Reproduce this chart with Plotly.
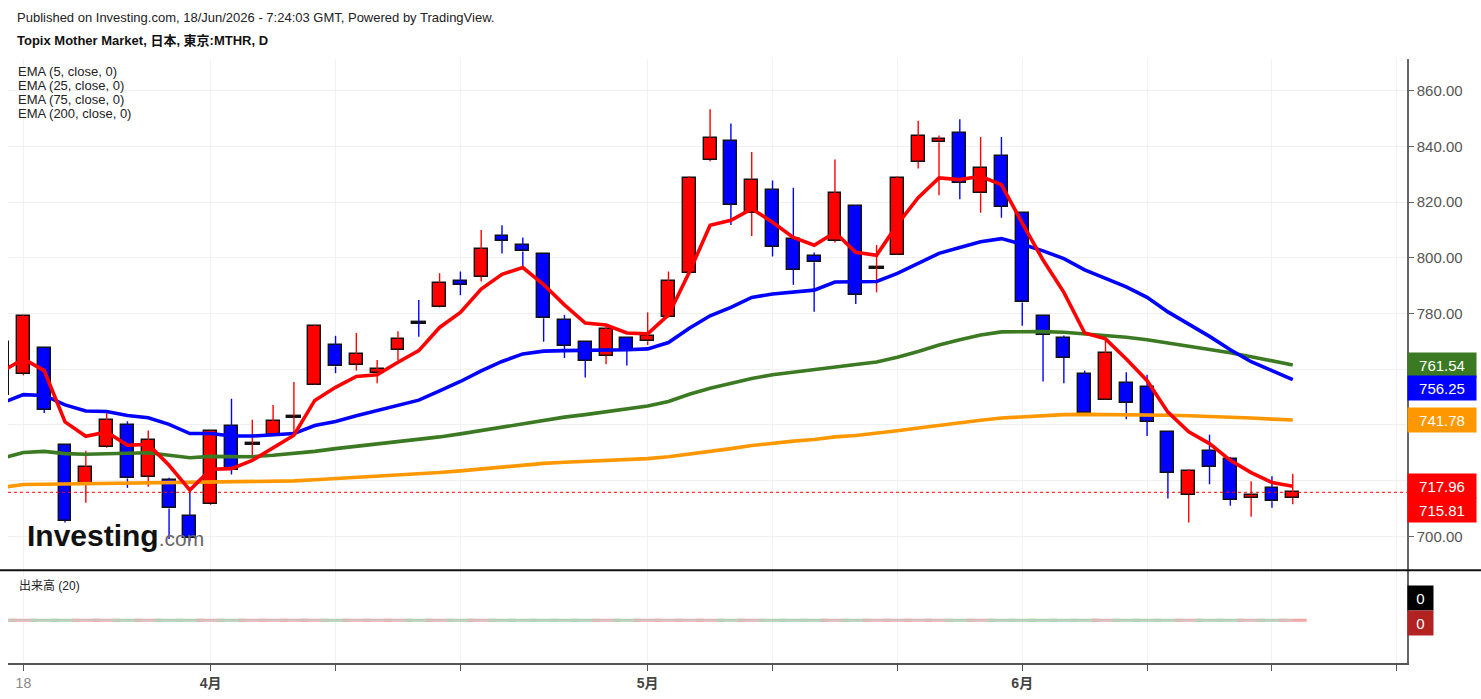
import plotly.graph_objects as go

# ---------------- data ----------------
dates = ["2026-03-17",
         "2026-03-18", "2026-03-19", "2026-03-23", "2026-03-24", "2026-03-25", "2026-03-26", "2026-03-27",
         "2026-03-30", "2026-03-31", "2026-04-01", "2026-04-02", "2026-04-03", "2026-04-06", "2026-04-07",
         "2026-04-08", "2026-04-09", "2026-04-10", "2026-04-13", "2026-04-14", "2026-04-15", "2026-04-16",
         "2026-04-17", "2026-04-20", "2026-04-21", "2026-04-22", "2026-04-23", "2026-04-24", "2026-04-27",
         "2026-04-28", "2026-04-30", "2026-05-01", "2026-05-07", "2026-05-08", "2026-05-11", "2026-05-12",
         "2026-05-13", "2026-05-14", "2026-05-15", "2026-05-18", "2026-05-19", "2026-05-20", "2026-05-21",
         "2026-05-22", "2026-05-25", "2026-05-26", "2026-05-27", "2026-05-28", "2026-05-29", "2026-06-01",
         "2026-06-02", "2026-06-03", "2026-06-04", "2026-06-05", "2026-06-08", "2026-06-09", "2026-06-10",
         "2026-06-11", "2026-06-12", "2026-06-15", "2026-06-16", "2026-06-17", "2026-06-18"]
slot = list(range(-1, len(dates) - 1))  # trading-day slot (-1 = partially hidden first bar)

opens = [769.7,
         758.3, 767.5, 732.7, 718.6, 732.1, 740.1, 721.4, 720.3, 707.4, 711.6,
         739.6, 733.2, 736.3, 742.9, 754.5, 768.7, 761.6, 758.7, 766.9, 777.0,
         782.4, 791.7, 793.2, 807.8, 804.6, 801.3, 777.8, 769.7, 764.8, 771.2,
         770.1, 778.6, 794.4, 835.1, 842.1, 816.2, 824.4, 806.7, 800.8, 806.1,
         818.5, 796.5, 801.2, 834.5, 841.5, 844.8, 823.2, 836.7, 816.2, 779.2,
         771.2, 758.3, 749.1, 755.1, 753.6, 737.5, 714.8, 730.5, 727.9, 713.8,
         717.2, 713.8]
highs = [772.0,
         779.5, 767.8, 733.0, 730.7, 744.6, 741.3, 738.0, 721.0, 716.6, 738.0,
         749.4, 741.9, 747.2, 755.4, 776.0, 772.0, 773.0, 763.3, 773.6, 784.9,
         794.5, 795.1, 810.0, 811.7, 807.3, 801.5, 779.5, 770.0, 775.4, 771.5,
         780.4, 795.1, 829.3, 853.4, 848.2, 838.0, 827.8, 825.2, 801.9, 835.3,
         819.0, 804.6, 829.3, 849.2, 843.9, 849.8, 843.4, 843.4, 816.5, 779.5,
         772.1, 759.5, 772.1, 758.9, 758.0, 737.8, 724.1, 736.5, 728.5, 719.8,
         721.6, 722.5]
lows = [748.0,
        757.8, 744.3, 705.0, 712.1, 731.8, 717.4, 717.8, 699.0, 698.2, 711.3,
        722.2, 729.1, 736.0, 736.3, 754.3, 758.6, 759.5, 755.0, 763.1, 771.7,
        782.2, 786.6, 791.5, 801.6, 796.5, 769.9, 764.0, 757.0, 761.8, 761.3,
        768.7, 778.4, 794.2, 834.7, 811.8, 807.8, 800.5, 790.3, 780.6, 805.5,
        783.4, 787.6, 801.0, 832.1, 822.5, 821.0, 816.2, 814.4, 775.6, 755.6,
        755.0, 743.4, 749.0, 742.0, 736.0, 713.6, 705.0, 718.7, 711.0, 707.0,
        710.3, 711.5]
closes = [750.6,
          779.2, 745.5, 705.6, 724.9, 741.6, 720.8, 734.7, 710.0, 699.3, 737.8,
          723.9, 733.5, 741.3, 743.2, 775.6, 761.0, 765.5, 760.0, 770.8, 776.7,
          791.1, 790.4, 803.0, 806.1, 802.3, 778.3, 768.5, 763.1, 774.4, 766.8,
          771.8, 791.6, 828.6, 843.1, 819.0, 828.1, 803.9, 795.7, 798.4, 823.2,
          786.7, 796.8, 828.7, 843.7, 842.7, 826.9, 832.4, 818.4, 784.0, 772.3,
          764.2, 744.3, 765.9, 748.0, 741.1, 722.8, 723.5, 724.9, 713.0, 715.0,
          712.6, 715.81]

ema5 = [759.3,
        763.7, 759.5, 741.1, 735.9, 737.5, 732.7, 733.0, 725.5, 716.6, 724.1,
        724.3, 727.3, 731.7, 736.3, 748.8, 753.5, 757.4, 758.0, 762.5, 766.7,
        775.0, 780.4, 788.8, 794.1, 796.5, 790.4, 783.1, 776.6, 775.9, 773.0,
        772.7, 779.5, 794.8, 811.7, 813.5, 817.6, 812.8, 807.3, 804.5, 809.1,
        802.0, 800.9, 812.0, 821.6, 828.7, 828.1, 829.3, 826.3, 812.5, 799.2,
        787.6, 773.0, 770.9, 763.7, 755.9, 744.6, 737.5, 733.3, 727.3, 722.9,
        719.3, 717.96]
ema25 = [748.0,
         750.9, 750.6, 747.2, 745.0, 744.8, 743.4, 742.6, 740.2, 736.9, 736.9,
         736.0, 736.0, 736.6, 736.9, 739.8, 741.2, 743.3, 745.2, 747.2, 748.9,
         752.2, 755.6, 759.4, 762.8, 765.5, 766.5, 766.7, 766.7, 766.8, 767.0,
         767.3, 769.6, 774.7, 779.2, 782.2, 785.8, 787.0, 787.7, 788.4, 791.3,
         791.4, 791.5, 794.4, 798.1, 801.6, 803.7, 805.8, 806.9, 804.9, 802.5,
         799.7, 795.7, 792.7, 789.6, 785.8, 780.6, 776.2, 771.8, 767.0, 762.7,
         759.5, 756.25]
ema75 = [728.1,
         730.1, 730.5, 729.7, 729.5, 729.6, 729.7, 730.0, 729.1, 728.2, 728.7,
         728.5, 728.6, 729.1, 729.7, 730.5, 731.5, 732.3, 733.0, 733.8, 734.7,
         735.7, 736.8, 738.0, 739.3, 740.6, 741.8, 742.8, 743.7, 744.7, 745.7,
         746.8, 748.4, 751.0, 753.2, 755.0, 756.7, 758.0, 759.0, 759.8, 761.0,
         761.7, 762.6, 764.3, 766.4, 768.7, 770.6, 772.3, 773.4, 773.6, 773.5,
         773.3, 772.8, 772.2, 771.5, 770.6, 769.5, 768.4, 767.2, 765.9, 764.5,
         763.0, 761.54]
ema200 = [717.6,
          718.6, 718.7, 718.8, 718.9, 719.0, 719.0, 719.1, 719.1, 719.1, 719.3,
          719.5, 719.6, 719.7, 719.9, 720.3, 720.7, 721.1, 721.5, 721.9, 722.4,
          722.9, 723.5, 724.2, 724.9, 725.6, 726.2, 726.6, 726.9, 727.2, 727.5,
          727.9, 728.6, 729.5, 730.5, 731.5, 732.6, 733.5, 734.2, 734.8, 735.7,
          736.2, 736.9, 737.9, 738.9, 739.9, 740.9, 741.7, 742.5, 743.0, 743.4,
          743.7, 743.8, 743.8, 743.8, 743.7, 743.5, 743.3, 743.1, 742.8, 742.5,
          742.1, 741.78]
volume = [0] * len(dates)
volume_ma = [0] * len(dates)

tick_slots = [0, 9, 15, 21, 30, 36, 42, 48, 54, 60, 66]
tick_labels = ["18", "4月", "", "", "5月", "", "", "6月", "", "", ""]
price_ticks = [700, 720, 740, 760, 780, 800, 820, 840, 860]
# tick labels hidden behind the last-value boxes in the original
covered_ticks = [720, 740, 760]

# ---------------- styling / geometry helpers ----------------
UP, DOWN = "#ff0000", "#0000ff"
L, R, T, B = 8, 1407, 59, 665
W, H = R - L, B - T


def fx(x):
    return (x - L) / W


def fy(y):
    return (B - y) / H


split = fy(572)
FONT = "Liberation Sans, Arial, Noto Sans CJK JP, sans-serif"

fig = go.Figure()

# candle bodies
body_col, body_lw = [], []
for o, c in zip(opens, closes):
    if abs(c - o) < 0.5:
        body_col.append("#111111")
        body_lw.append(2.4)
    else:
        body_col.append(UP if c > o else DOWN)
        body_lw.append(1.4)
fig.add_trace(go.Bar(
    x=slot, base=opens, y=[c - o for o, c in zip(opens, closes)],
    width=0.62, marker=dict(color=body_col, line=dict(color="#111111", width=body_lw)),
    xaxis="x", yaxis="y", hoverinfo="skip", showlegend=False))

# wicks
for col, is_up in ((UP, True), (DOWN, False)):
    wx, wy = [], []
    for s, o, h, l, c in zip(slot, opens, highs, lows, closes):
        if (c >= o) != is_up:
            continue
        top, bot = max(o, c), min(o, c)
        wx += [s, s, None, s, s, None]
        wy += [h, top, None, bot, l, None]
    fig.add_trace(go.Scatter(x=wx, y=wy, mode="lines", line=dict(color=col, width=1.4),
                             xaxis="x", yaxis="y", hoverinfo="skip", showlegend=False))

# EMAs
for vals, col in ((ema200, "#ff9800"), (ema75, "#3b7a22"), (ema25, "#0000ff"), (ema5, "#ff0000")):
    fig.add_trace(go.Scatter(x=slot, y=vals, mode="lines", line=dict(color=col, width=3.6),
                             xaxis="x", yaxis="y", hoverinfo="skip", showlegend=False))

# volume pane
vcols = ["#f3a6a6" if c >= o else "#9fd9a8" for o, c in zip(opens, closes)]
fig.add_trace(go.Scatter(x=slot, y=volume, mode="markers",
                         marker=dict(symbol="line-ew", size=20, line=dict(color=vcols, width=3)),
                         xaxis="x", yaxis="y2", hoverinfo="skip", showlegend=False))
fig.add_trace(go.Scatter(x=slot, y=volume_ma, mode="lines", line=dict(color="#c8c8c8", width=1.5),
                         xaxis="x", yaxis="y2", hoverinfo="skip", showlegend=False))

last_close = closes[-1]

ticktext = []
for t in tick_labels:
    if t == "18":
        ticktext.append('<span style="color:#888">18</span>')
    elif t:
        ticktext.append("<b>%s</b>" % t)
    else:
        ticktext.append("")

fig.update_layout(
    width=1481, height=699, autosize=False,
    margin=dict(l=L, r=1481 - R, t=T, b=699 - B, pad=0),
    paper_bgcolor="white", plot_bgcolor="white",
    font=dict(family=FONT, color="#222"),
    showlegend=False, bargap=0,
    xaxis=dict(domain=[0, 1], anchor="y2", range=[-0.74, 66.49],
               tickmode="array", tickvals=tick_slots, ticktext=ticktext,
               ticks="outside", ticklen=6, tickcolor="#555", tickwidth=1,
               showline=True, linecolor="#555", linewidth=2,
               showgrid=True, gridcolor="#f2f2f2", zeroline=False,
               tickfont=dict(size=14, color="#444")),
    yaxis=dict(domain=[split, 1], anchor="x", side="right", range=[687.8, 871.4],
               tickmode="array", tickvals=price_ticks,
               ticktext=["" if v in covered_ticks else "%.2f" % v for v in price_ticks],
               ticks="outside", ticklen=5, tickcolor="#666",
               showline=True, linecolor="#666", linewidth=1.5,
               showgrid=True, gridcolor="#f0f0f0", zeroline=False,
               tickfont=dict(size=15, color="#555")),
    yaxis2=dict(domain=[0, split], anchor="x", side="right", range=[-0.86, 1],
                showticklabels=False, ticks="", showline=True, linecolor="#666", linewidth=1.5,
                showgrid=False, zeroline=False),
)

shapes = [
    dict(type="line", xref="paper", yref="paper", x0=fx(0), x1=fx(1481), y0=split, y1=split,
         line=dict(color="#111", width=2)),
    dict(type="line", xref="paper", yref="y", x0=0, x1=1, y0=last_close, y1=last_close,
         line=dict(color="#ff0000", width=1, dash="dot")),
]
fig.update_layout(shapes=shapes)

ann = []
ann.append(dict(text="Published on Investing.com, 18/Jun/2026 - 7:24:03 GMT, Powered by TradingView.",
                x=fx(15), y=fy(17), xref="paper", yref="paper", xanchor="left", yanchor="middle",
                showarrow=False, font=dict(size=13, color="#222")))
ann.append(dict(text="<b>Topix Mother Market, 日本, 東京:MTHR, D</b>",
                x=fx(15), y=fy(40), xref="paper", yref="paper", xanchor="left", yanchor="middle",
                showarrow=False, font=dict(size=13, color="#111")))
for i, t in enumerate(["EMA (5, close, 0)", "EMA (25, close, 0)", "EMA (75, close, 0)", "EMA (200, close, 0)"]):
    ann.append(dict(text=t, x=fx(16), y=fy(72 + 14 * i), xref="paper", yref="paper",
                    xanchor="left", yanchor="middle", showarrow=False, font=dict(size=13, color="#222")))
ann.append(dict(text="出来高 (20)", x=fx(17), y=fy(588), xref="paper", yref="paper",
                xanchor="left", yanchor="middle", showarrow=False, font=dict(size=12, color="#222")))
ann.append(dict(text='<b>Investing</b><span style="font-size:21px;color:#666">.com</span>',
                x=fx(25), y=fy(537), xref="paper", yref="paper", xanchor="left", yanchor="middle",
                showarrow=False, font=dict(size=30, color="#111", family=FONT)))

labels = [(ema75[-1], "#3b7a22", 0), (ema25[-1], "#0000ff", -8.5), (ema200[-1], "#ff9800", 0),
          (ema5[-1], "#ff0000", 0), (last_close, "#ff0000", -18)]
for v, col, sh in labels:
    ann.append(dict(text="%.2f" % v, x=1.0, y=v, xref="paper", yref="y", xanchor="left",
                    yanchor="middle", yshift=sh, showarrow=False, bgcolor=col, borderpad=3,
                    width=62, height=18, align="center", font=dict(size=15, color="white")))
ann.append(dict(text="0", x=1.0, y=fy(600), xref="paper", yref="paper", xanchor="left", yanchor="middle",
                showarrow=False, bgcolor="#000000", borderpad=3, width=19, height=18,
                font=dict(size=15, color="white")))
ann.append(dict(text="0", x=1.0, y=fy(625), xref="paper", yref="paper", xanchor="left", yanchor="middle",
                showarrow=False, bgcolor="#b22222", borderpad=3, width=19, height=18,
                font=dict(size=15, color="white")))
fig.update_layout(annotations=ann)

fig.write_html("out.html", config={"displayModeBar": False})
